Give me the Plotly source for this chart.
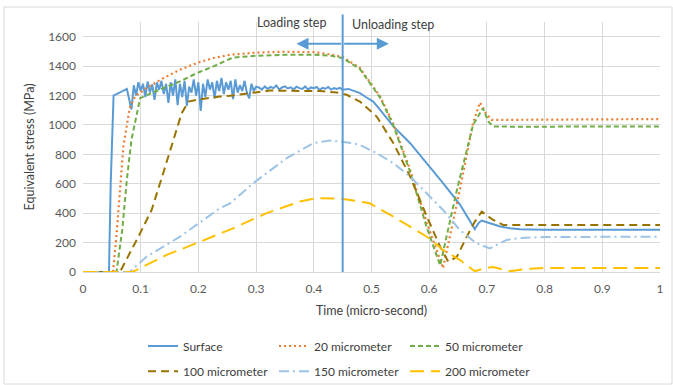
import plotly.graph_objects as go

# ---------------- data ----------------
t_surface = [0, 0.045, 0.048, 0.053, 0.076,
             0.080, 0.084, 0.088, 0.092, 0.096, 0.100, 0.104, 0.108, 0.112, 0.116,
             0.120, 0.124, 0.128, 0.132, 0.136, 0.140, 0.144, 0.148, 0.152, 0.156,
             0.160, 0.164, 0.168, 0.172, 0.176, 0.180, 0.184, 0.188, 0.192, 0.196,
             0.200, 0.204, 0.208, 0.212, 0.216, 0.220, 0.224, 0.228, 0.232, 0.236,
             0.240, 0.244, 0.248, 0.252, 0.256, 0.260, 0.264, 0.268, 0.272, 0.276,
             0.280, 0.284, 0.288, 0.292, 0.296, 0.300,
             0.305, 0.310, 0.315, 0.320, 0.325, 0.330, 0.335, 0.340, 0.345, 0.350,
             0.355, 0.360, 0.365, 0.370, 0.375, 0.380, 0.385, 0.390, 0.395, 0.400,
             0.405, 0.410, 0.415, 0.420, 0.425, 0.430, 0.435, 0.440, 0.445, 0.450,
             0.460, 0.470, 0.480, 0.490, 0.503, 0.515, 0.538, 0.567, 0.596, 0.624,
             0.653, 0.671, 0.679, 0.686, 0.691, 0.700, 0.711, 0.723, 0.740, 0.757,
             0.800, 0.900, 1.000]
s_surface = [0, 0, 600, 1200, 1245,
             1180, 1105, 1270, 1200, 1290, 1230, 1280, 1190, 1295, 1220,
             1275, 1170, 1290, 1240, 1300, 1210, 1280, 1150, 1290, 1200,
             1310, 1135, 1280, 1190, 1300, 1130, 1260, 1220, 1310, 1200,
             1290, 1095, 1280, 1190, 1310, 1240, 1290, 1180, 1300, 1230,
             1320, 1210, 1290, 1240, 1300, 1175, 1310, 1220, 1270, 1230,
             1300, 1220, 1180, 1280, 1230, 1260,
             1255, 1240, 1262, 1245, 1258, 1250, 1268, 1240, 1255, 1262,
             1248, 1256, 1242, 1260, 1250, 1245, 1262, 1240, 1255, 1250,
             1258, 1238, 1252, 1246, 1258, 1240, 1250, 1245, 1252, 1240,
             1245, 1228, 1216, 1190, 1159, 1103, 990, 876, 740, 604,
             460, 350, 292, 335, 350, 338, 325, 309, 297, 290,
             288, 287, 287]

t_20 = [0, 0.052, 0.058, 0.064, 0.070, 0.081, 0.090, 0.110, 0.139, 0.168, 0.197,
        0.226, 0.255, 0.30, 0.35, 0.40, 0.428, 0.45, 0.48, 0.515, 0.537, 0.567,
        0.596, 0.624, 0.653, 0.676, 0.688, 0.698, 0.708, 0.75, 0.85, 1.0]
s_20 = [0, 0, 250, 558, 853, 1116, 1193, 1250, 1318, 1375, 1421,
        1455, 1477, 1492, 1498, 1495, 1480, 1462, 1387, 1193, 1014, 694,
        333, 25, 558, 1014, 1153, 1080, 1035, 1035, 1038, 1040]

t_50 = [0, 0.058, 0.068, 0.076, 0.084, 0.093, 0.099, 0.139, 0.168, 0.197, 0.226,
        0.255, 0.26, 0.30, 0.35, 0.40, 0.43, 0.45, 0.48, 0.515, 0.537, 0.567,
        0.596, 0.619, 0.648, 0.676, 0.693, 0.703, 0.711, 0.75, 0.85, 1.0]
s_50 = [0, 0, 286, 626, 899, 1080, 1182, 1250, 1296, 1352, 1398,
        1450, 1458, 1470, 1477, 1478, 1470, 1455, 1380, 1185, 1005, 680,
        300, 45, 558, 1000, 1114, 1020, 990, 988, 990, 990]

t_100 = [0, 0.064, 0.096, 0.119, 0.139, 0.157, 0.171, 0.183, 0.197, 0.237, 0.255,
         0.324, 0.411, 0.440, 0.457, 0.480, 0.509, 0.538, 0.567, 0.596, 0.619,
         0.633, 0.648, 0.665, 0.679, 0.691, 0.711, 0.728, 0.80, 1.0]
s_100 = [0, 0, 240, 422, 672, 899, 1080, 1159, 1171, 1193, 1198,
         1234, 1230, 1220, 1205, 1159, 1057, 876, 649, 376, 172,
         70, 104, 240, 342, 410, 354, 320, 320, 320]

t_150 = [0, 0.081, 0.110, 0.168, 0.237, 0.255, 0.295, 0.353, 0.399, 0.428, 0.468,
         0.480, 0.509, 0.538, 0.567, 0.596, 0.624, 0.653, 0.682, 0.705, 0.734,
         0.76, 0.80, 1.0]
s_150 = [0, 0, 104, 240, 433, 467, 604, 774, 876, 894, 876,
         864, 808, 740, 649, 536, 422, 286, 195, 161, 218,
         232, 238, 240]

t_200 = [0, 0.085, 0.093, 0.145, 0.203, 0.260, 0.318, 0.376, 0.405, 0.428, 0.445,
         0.480, 0.497, 0.538, 0.596, 0.624, 0.653, 0.679, 0.695, 0.711, 0.740,
         0.770, 0.80, 1.0]
s_200 = [0, 0, 14, 116, 206, 297, 400, 479, 502, 502, 500,
         479, 467, 376, 240, 150, 82, 5, 25, 34, 5,
         22, 27, 27]

series_names = ["Surface", "20 micrometer", "50 micrometer",
                "100 micrometer", "150 micrometer", "200 micrometer"]

x_ticks = [0, 0.1, 0.2, 0.3, 0.4, 0.5, 0.6, 0.7, 0.8, 0.9, 1]
x_tick_text = ["0", "0.1", "0.2", "0.3", "0.4", "0.5", "0.6", "0.7", "0.8", "0.9", "1"]
y_ticks = [0, 200, 400, 600, 800, 1000, 1200, 1400, 1600]

split_time = 0.45
arrow_level = 1552
loading_end = 0.37
unloading_end = 0.53

# ---------------- figure ----------------
FONT = "Lato, Calibri, sans-serif"
styles = [
    dict(color="#5B9BD5", width=2, dash="solid"),
    dict(color="#ED7D31", width=2.2, dash="2px,3px"),
    dict(color="#70AD47", width=2, dash="5px,3px"),
    dict(color="#997300", width=2, dash="8px,5px"),
    dict(color="#9DC3E6", width=2, dash="10px,4px,2px,4px"),
    dict(color="#FFC000", width=2, dash="14px,7px"),
]
data = [(t_surface, s_surface), (t_20, s_20), (t_50, s_50),
        (t_100, s_100), (t_150, s_150), (t_200, s_200)]

fig = go.Figure()
for i, ((tx, sy), name, st) in enumerate(zip(data, series_names, styles)):
    fig.add_trace(go.Scatter(x=tx, y=sy, mode="lines", name=name, line=st,
                             legend="legend" if i < 3 else "legend2"))

xmin, xmax = 0, 1
split_paper = (split_time - xmin) / (xmax - xmin)

fig.add_shape(type="line", xref="paper", yref="paper", x0=split_paper, x1=split_paper,
              y0=0, y1=1.03, line=dict(color="#5B9BD5", width=2))
# chart border
fig.add_shape(type="rect", xref="paper", yref="paper", x0=-0.137, x1=1.0208,
              y0=-0.448, y1=1.06, line=dict(color="#D9D9D9", width=1), layer="below")

for end in (loading_end, unloading_end):
    fig.add_annotation(x=end, y=arrow_level, ax=split_time, ay=arrow_level,
                       xref="x", yref="y", axref="x", ayref="y", text="",
                       showarrow=True, arrowhead=2, arrowsize=1.2, arrowwidth=2,
                       arrowcolor="#5B9BD5")

fig.add_annotation(x=0.425, y=1.0, xref="x", yref="paper", text="Loading step",
                   showarrow=False, xanchor="right", yanchor="middle",
                   font=dict(family=FONT, size=12.5, color="#404040"))
fig.add_annotation(x=0.463, y=0.99, xref="x", yref="paper", text="Unloading step",
                   showarrow=False, xanchor="left", yanchor="middle",
                   font=dict(family=FONT, size=12.5, color="#404040"))

legend_common = dict(orientation="h", xanchor="left", yanchor="middle",
                     xref="container", yref="container",
                     font=dict(family=FONT, size=12, color="#404040"),
                     bgcolor="rgba(0,0,0,0)", entrywidth=86, entrywidthmode="pixels",
                     tracegroupgap=0, itemwidth=30)

fig.update_layout(
    width=673, height=385,
    margin=dict(l=83, r=13, t=22, b=113, autoexpand=False),
    paper_bgcolor="white", plot_bgcolor="white",
    font=dict(family=FONT, size=12, color="#595959"),
    showlegend=True,
    legend=dict(x=0.2125, y=0.1013, **legend_common),
    legend2=dict(x=0.2125, y=0.036, **legend_common),
    xaxis=dict(range=[xmin, xmax], tickvals=x_ticks, ticktext=x_tick_text,
               showgrid=True, gridcolor="#D9D9D9", gridwidth=1, automargin=False,
               zeroline=False, showline=True, linecolor="#D9D9D9", linewidth=1,
               ticks="", ticklabelstandoff=6,
               tickfont=dict(family=FONT, size=12, color="#595959"),
               title=dict(text="Time (micro-second)", standoff=10,
                          font=dict(family=FONT, size=12.5, color="#404040"))),
    yaxis=dict(range=[0, 1700], tickvals=y_ticks, automargin=False,
               showgrid=True, gridcolor="#D9D9D9", gridwidth=1,
               zeroline=False, showline=False, ticks="", ticklabelstandoff=6,
               tickfont=dict(family=FONT, size=12, color="#595959"),
               title=dict(text="Equivalent stress (MPa)", standoff=10,
                          font=dict(family=FONT, size=12.5, color="#404040"))),
)

fig.write_html("out.html", config={"displayModeBar": False},
               post_script="document.body.style.margin='0';")
